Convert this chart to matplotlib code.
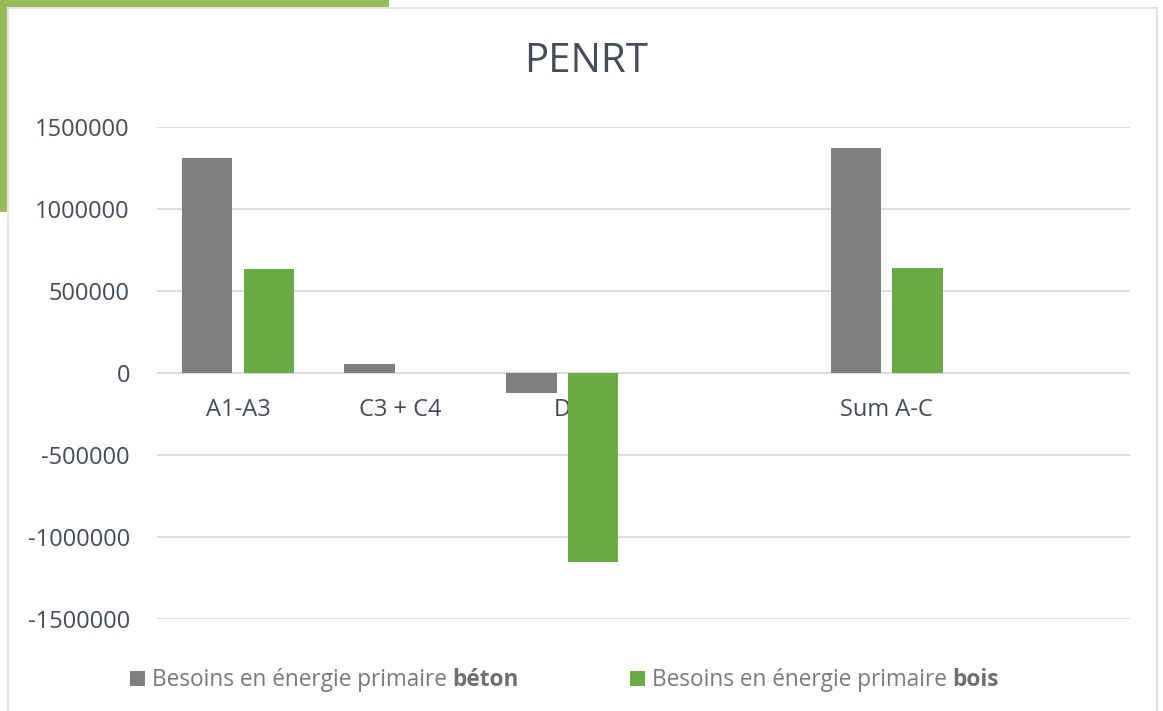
import matplotlib.pyplot as plt
import matplotlib.patches as mpatches
import numpy as np

categories = ["A1-A3", "C3 + C4", "D", "", "Sum A-C", ""]
beton = [1310000, 55000, -122000, np.nan, 1370000, np.nan]
bois = [634000, 0, -1150000, np.nan, 640000, np.nan]
yticks = [-1500000, -1000000, -500000, 0, 500000, 1000000, 1500000]

GREY = "#7f7f7f"
GREEN = "#6aab45"
TEXT = "#444c5a"

plt.rcParams["font.family"] = ["Open Sans", "DejaVu Sans"]

fig = plt.figure(figsize=(11.63, 7.11), dpi=100)

# decorative green corner and light frame
fig.add_artist(mpatches.Rectangle((0, 1 - 8 / 711), 389 / 1163, 8 / 711,
                                  transform=fig.transFigure, color="#9bbb59", lw=0))
fig.add_artist(mpatches.Rectangle((0, 1 - 212 / 711), 8 / 1163, 212 / 711,
                                  transform=fig.transFigure, color="#9bbb59", lw=0))
fig.add_artist(mpatches.Rectangle((8 / 1163, -0.01), 1149 / 1163, 1 - 8 / 711 + 0.01,
                                  transform=fig.transFigure, fill=False,
                                  edgecolor="#e2e2e2", lw=1.5))

ax = fig.add_axes([157 / 1163, 92 / 711, 973 / 1163, 492 / 711])
x = np.arange(len(categories))
w = 0.31
ax.bar(x - 0.19, beton, w, color=GREY, zorder=3)
ax.bar(x + 0.19, bois, w, color=GREEN, zorder=3)

ax.set_xlim(-0.5, len(categories) - 0.5)
ax.set_ylim(-1500000, 1500000)
ax.set_yticks(yticks)
ax.set_yticklabels([str(v) for v in yticks])
ax.yaxis.grid(True, color="#d9d9d9", lw=1.3, zorder=0)
ax.set_axisbelow(True)
for s in ["top", "right", "left", "bottom"]:
    ax.spines[s].set_visible(False)
ax.spines["bottom"].set_position(("data", 0))

ax.set_xticks(x)
ax.set_xticklabels(categories)
ax.tick_params(axis="x", length=0, pad=18, labelsize=17, labelcolor=TEXT)
ax.tick_params(axis="y", length=0, pad=19.5, labelsize=17, labelcolor=TEXT)

fig.text(586 / 1163, 1 - 62 / 711, "PENRT", ha="center", va="center",
         fontsize=29, color=TEXT)

# legend with partially bold labels
fig.canvas.draw()
renderer = fig.canvas.get_renderer()
legend_items = [("Besoins en énergie primaire ", "béton", GREY, 130),
                ("Besoins en énergie primaire ", "bois", GREEN, 630)]
for regular, bold, color, px in legend_items:
    fig.add_artist(mpatches.Rectangle((px / 1163, 1 - 686 / 711), 15 / 1163, 15 / 711,
                                      transform=fig.transFigure, color=color, lw=0))
    t = fig.text((px + 22) / 1163, 1 - 686 / 711, regular, ha="left", va="baseline",
                 fontsize=16.3, color="#7a7a7a")
    x1 = t.get_window_extent(renderer).x1 / fig.bbox.width
    fig.text(x1, 1 - 686 / 711, bold, ha="left", va="baseline",
             fontsize=16.3, color="#6f6f6f", fontweight="bold")

plt.savefig("out.png", dpi=100)
plt.close()
